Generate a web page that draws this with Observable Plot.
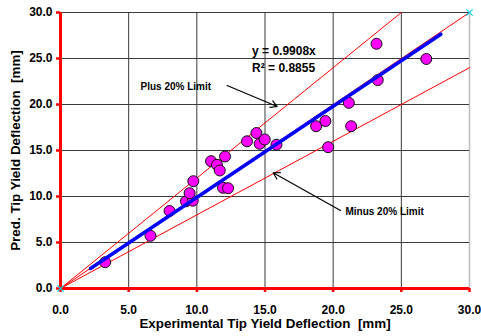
<!DOCTYPE html>
<html>
<head>
<meta charset="utf-8">
<script src="https://cdn.jsdelivr.net/npm/d3@7"></script>
<script src="https://cdn.jsdelivr.net/npm/@observablehq/plot@0.6"></script>
<style>
  html, body { margin: 0; padding: 0; background: #fff; }
  #chart svg { display: block; }
</style>
</head>
<body>
<div id="chart"></div>
<script>
// Measured (experimental) vs predicted tip yield deflection [mm]
const expX = [3.28, 6.6, 8.0, 9.2, 9.7, 9.47, 9.74, 11.04, 11.48, 11.68, 12.07, 11.92, 12.29,
              13.68, 14.37, 14.61, 14.98, 15.84, 18.75, 19.43, 19.63, 21.15, 21.32, 23.18, 23.27, 26.83];
const predY = [2.86, 5.73, 8.43, 9.48, 9.55, 10.36, 11.66, 13.84, 13.44, 12.83, 14.35, 10.95, 10.9,
               16.0, 16.9, 15.73, 16.2, 15.63, 17.64, 18.2, 15.36, 20.18, 17.64, 26.6, 22.65, 24.95];

// Linear fit y = 0.9908x, drawn over the data range
const fitX = [2.2, 27.9];
const fitY = [2.18, 27.64];

// Reference lines: equality, +20% and -20%
const lineX = [0, 30], lineY = [0, 30];
const plusX = [0, 25], plusY = [0, 30];
const minusX = [0, 30], minusY = [0, 24];

// Cyan marker points
const markX = [0, 30], markY = [0, 30];

// Ticks
const ticks = [0, 5, 10, 15, 20, 25, 30];
const gridDarkX = [5, 10, 15, 20, 25];
const gridLightX = [30];
const gridY = [5, 10, 15, 20, 25, 30];

// Annotations
const eqText = "y = 0.9908x";
const r2Text = "R² = 0.8855";
const plusLabel = "Plus 20% Limit";
const minusLabel = "Minus 20% Limit";
const plusArrow = {x1: 12.22, y1: 22.07, x2: 15.89, y2: 19.78};
const minusArrow = {x1: 20.54, y1: 8.48, x2: 15.6, y2: 12.58};
const xTitle = "Experimental Tip Yield Deflection  [mm]";
const yTitle = "Pred. Tip Yield Deflection  [mm]";

const pts = expX.map((x, i) => ({x, y: predY[i]}));
const toPts = (xs, ys) => xs.map((x, i) => ({x, y: ys[i]}));
const fmt = d => d.toFixed(1);

const chart = Plot.plot({
  width: 481,
  height: 336,
  marginLeft: 60,
  marginRight: 12,
  marginTop: 12,
  marginBottom: 48,
  style: {fontFamily: "'Liberation Sans', Arial, sans-serif", fontWeight: "bold", color: "#000", background: "#fff", overflow: "visible"},
  x: {domain: [0, 30]},
  y: {domain: [0, 30]},
  marks: [
    Plot.gridX(gridDarkX, {stroke: "#3a3a3a", strokeOpacity: 1, strokeWidth: 1}),
    Plot.gridX(gridLightX, {stroke: "#bdbdbd", strokeOpacity: 1, strokeWidth: 1.5}),
    Plot.gridY(gridY, {stroke: "#3a3a3a", strokeOpacity: 1, strokeWidth: 1}),
    Plot.line(toPts(lineX, lineY), {x: "x", y: "y", stroke: "#ff0000", strokeWidth: 1}),
    Plot.line(toPts(plusX, plusY), {x: "x", y: "y", stroke: "#ff0000", strokeWidth: 1}),
    Plot.line(toPts(minusX, minusY), {x: "x", y: "y", stroke: "#ff0000", strokeWidth: 1}),
    Plot.dot(pts, {x: "x", y: "y", r: 5.5, fill: "#ff00ff", stroke: "#111", strokeWidth: 1}),
    Plot.line(toPts(fitX, fitY), {x: "x", y: "y", stroke: "#0000ff", strokeWidth: 3.5}),
    Plot.axisX(ticks, {tickSize: 4, tickPadding: 13, stroke: "#ff0000", strokeWidth: 2.5, fontSize: 12, tickFormat: fmt, label: null}),
    Plot.axisY(ticks, {tickSize: 4, tickPadding: 4, stroke: "#ff0000", strokeWidth: 2.5, fontSize: 12, tickFormat: fmt, label: null}),
    Plot.ruleX([0], {stroke: "#ff0000", strokeWidth: 3}),
    Plot.ruleY([0], {stroke: "#ff0000", strokeWidth: 3}),
    Plot.dot(toPts(markX, markY), {x: "x", y: "y", symbol: "times", r: 3, stroke: "#00d8e8", strokeWidth: 1.2}),
    Plot.arrow([plusArrow], {x1: "x1", y1: "y1", x2: "x2", y2: "y2", stroke: "#000", strokeWidth: 1.2, headLength: 9, bend: 0}),
    Plot.arrow([minusArrow], {x1: "x1", y1: "y1", x2: "x2", y2: "y2", stroke: "#000", strokeWidth: 1.2, headLength: 9, bend: 0}),
    Plot.text([eqText], {x: 14.05, y: 25.79, textAnchor: "start", fontSize: 12}),
    Plot.text([r2Text], {x: 14.05, y: 23.99, textAnchor: "start", fontSize: 12}),
    Plot.text([plusLabel], {x: 5.87, y: 21.88, textAnchor: "start", fontSize: 10}),
    Plot.text([minusLabel], {x: 20.9, y: 8.37, textAnchor: "start", fontSize: 10}),
    Plot.text([xTitle], {frameAnchor: "bottom", textAnchor: "middle", dy: 39, fontSize: 13.4}),
    Plot.text([yTitle], {frameAnchor: "left", textAnchor: "middle", dx: -45, rotate: -90, fontSize: 13.4})
  ]
});
document.getElementById("chart").appendChild(chart);
</script>
</body>
</html>
